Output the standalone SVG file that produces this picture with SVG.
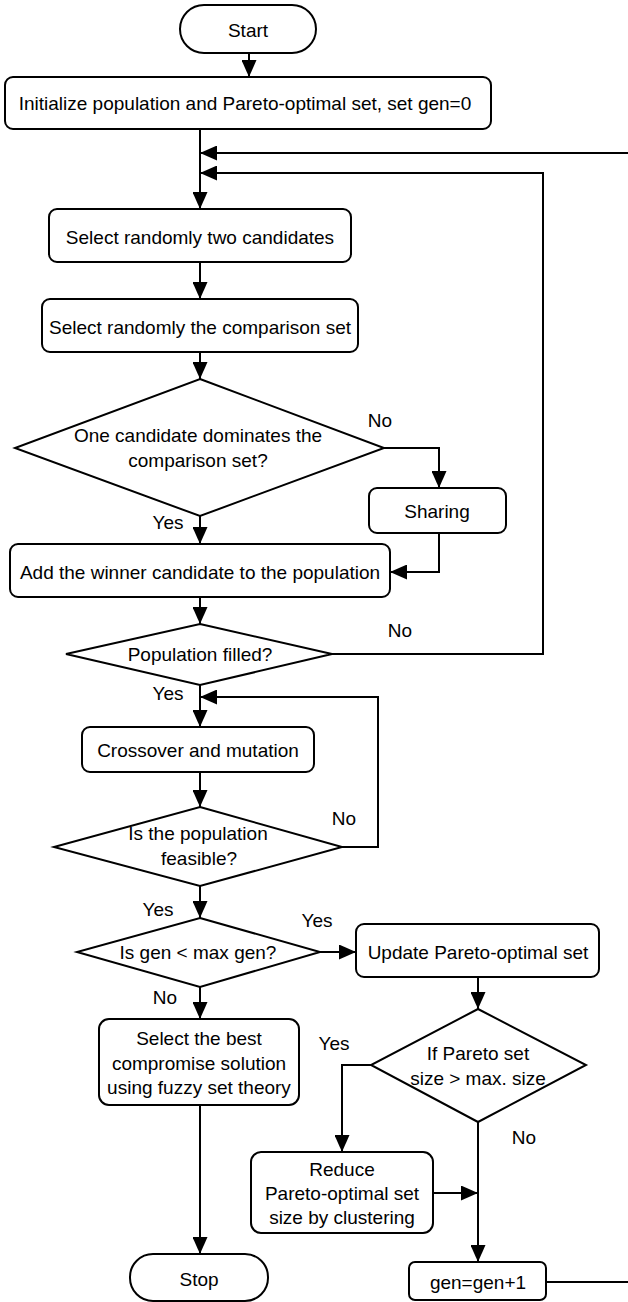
<svg xmlns="http://www.w3.org/2000/svg" width="628" height="1302" viewBox="0 0 628 1302">
<style>
.n{fill:#fff;stroke:#000;stroke-width:2}
.t{font-family:"Liberation Sans",Arial,sans-serif;font-size:19px;fill:#000;text-anchor:middle}
.c{fill:none;stroke:#000;stroke-width:2}
</style>
<defs>
<marker id="ah" markerUnits="userSpaceOnUse" markerWidth="17" markerHeight="15" refX="17" refY="7.5" orient="auto">
<path d="M0,0 L17,7.5 L0,15 z" fill="#000"/>
</marker>
</defs>
<rect width="628" height="1302" fill="#fff"/>
<g id="connectors">
<path class="c" d="M249,53 V77" marker-end="url(#ah)"/>
<path class="c" d="M200,129 V209" marker-end="url(#ah)"/>
<path class="c" d="M628,153 H200" marker-end="url(#ah)"/>
<path class="c" d="M332,654 H543 V173 H200" marker-end="url(#ah)"/>
<path class="c" d="M200,262 V299" marker-end="url(#ah)"/>
<path class="c" d="M200,352 V379" marker-end="url(#ah)"/>
<path class="c" d="M384,448 H439 V488" marker-end="url(#ah)"/>
<path class="c" d="M439,533 V572 H390" marker-end="url(#ah)"/>
<path class="c" d="M200,516 V544" marker-end="url(#ah)"/>
<path class="c" d="M200,597 V624" marker-end="url(#ah)"/>
<path class="c" d="M200,685 V727" marker-end="url(#ah)"/>
<path class="c" d="M342,847 H378 V697 H200" marker-end="url(#ah)"/>
<path class="c" d="M200,772 V807" marker-end="url(#ah)"/>
<path class="c" d="M200,886 V918" marker-end="url(#ah)"/>
<path class="c" d="M320,952 H356" marker-end="url(#ah)"/>
<path class="c" d="M200,987 V1019" marker-end="url(#ah)"/>
<path class="c" d="M478,977 V1009" marker-end="url(#ah)"/>
<path class="c" d="M371,1065 H342 V1152" marker-end="url(#ah)"/>
<path class="c" d="M433,1193 H478" marker-end="url(#ah)"/>
<path class="c" d="M478,1122 V1262" marker-end="url(#ah)"/>
<path class="c" d="M546,1282 H628"/>
<path class="c" d="M200,1105 V1254" marker-end="url(#ah)"/>
<text class="t" x="380" y="427">No</text>
<text class="t" x="168" y="529">Yes</text>
<text class="t" x="400" y="637">No</text>
<text class="t" x="168" y="700">Yes</text>
<text class="t" x="344" y="825">No</text>
<text class="t" x="158" y="916">Yes</text>
<text class="t" x="317" y="927">Yes</text>
<text class="t" x="165" y="1004">No</text>
<text class="t" x="334" y="1050">Yes</text>
<text class="t" x="524" y="1144">No</text>
</g>
<g id="start"><rect class="n" x="180" y="5" width="136" height="48" rx="24"/><text class="t" x="248" y="37">Start</text></g>
<g id="init"><rect class="n" x="5" y="77" width="486" height="52" rx="8"/><text class="t" x="245" y="110">Initialize population and Pareto-optimal set, set gen=0</text></g>
<g id="select-two"><rect class="n" x="49" y="209" width="302" height="53" rx="8"/><text class="t" x="200" y="244">Select randomly two candidates</text></g>
<g id="select-comparison"><rect class="n" x="42" y="299" width="316" height="53" rx="8"/><text class="t" x="200" y="334">Select randomly the comparison set</text></g>
<g id="dominates"><polygon class="n" points="200,379 384,448 200,516 15,448"/><text class="t" x="198" y="442">One candidate dominates the</text><text class="t" x="198" y="467">comparison set?</text></g>
<g id="sharing"><rect class="n" x="369" y="488" width="137" height="45" rx="8"/><text class="t" x="437" y="518">Sharing</text></g>
<g id="add-winner"><rect class="n" x="10" y="544" width="380" height="53" rx="8"/><text class="t" x="200" y="579">Add the winner candidate to the population</text></g>
<g id="filled"><polygon class="n" points="200,624 332,654 200,685 66,654"/><text class="t" x="200" y="661">Population filled?</text></g>
<g id="crossover"><rect class="n" x="82" y="727" width="232" height="45" rx="8"/><text class="t" x="198" y="757">Crossover and mutation</text></g>
<g id="feasible"><polygon class="n" points="200,807 342,847 200,886 54,847"/><text class="t" x="198" y="840">Is the population</text><text class="t" x="199" y="865">feasible?</text></g>
<g id="maxgen"><polygon class="n" points="200,918 320,952 200,987 77,952"/><text class="t" x="198" y="959">Is gen &lt; max gen?</text></g>
<g id="update"><rect class="n" x="356" y="924" width="243" height="53" rx="8"/><text class="t" x="478" y="959">Update Pareto-optimal set</text></g>
<g id="setsize"><polygon class="n" points="478,1009 586,1065 478,1122 371,1065"/><text class="t" x="478" y="1060">If Pareto set</text><text class="t" x="478" y="1085">size &gt; max. size</text></g>
<g id="best"><rect class="n" x="99" y="1019" width="200" height="86" rx="10"/><text class="t" x="199" y="1045">Select the best</text><text class="t" x="199" y="1070">compromise solution</text><text class="t" x="199" y="1094">using fuzzy set theory</text></g>
<g id="reduce"><rect class="n" x="251" y="1152" width="182" height="81" rx="10"/><text class="t" x="342" y="1176">Reduce</text><text class="t" x="342" y="1200">Pareto-optimal set</text><text class="t" x="342" y="1224">size by clustering</text></g>
<g id="gen"><rect class="n" x="409" y="1262" width="137" height="38" rx="6"/><text class="t" x="478" y="1289">gen=gen+1</text></g>
<g id="stop"><rect class="n" x="130" y="1254" width="138" height="47" rx="23"/><text class="t" x="199" y="1286">Stop</text></g>
</svg>
